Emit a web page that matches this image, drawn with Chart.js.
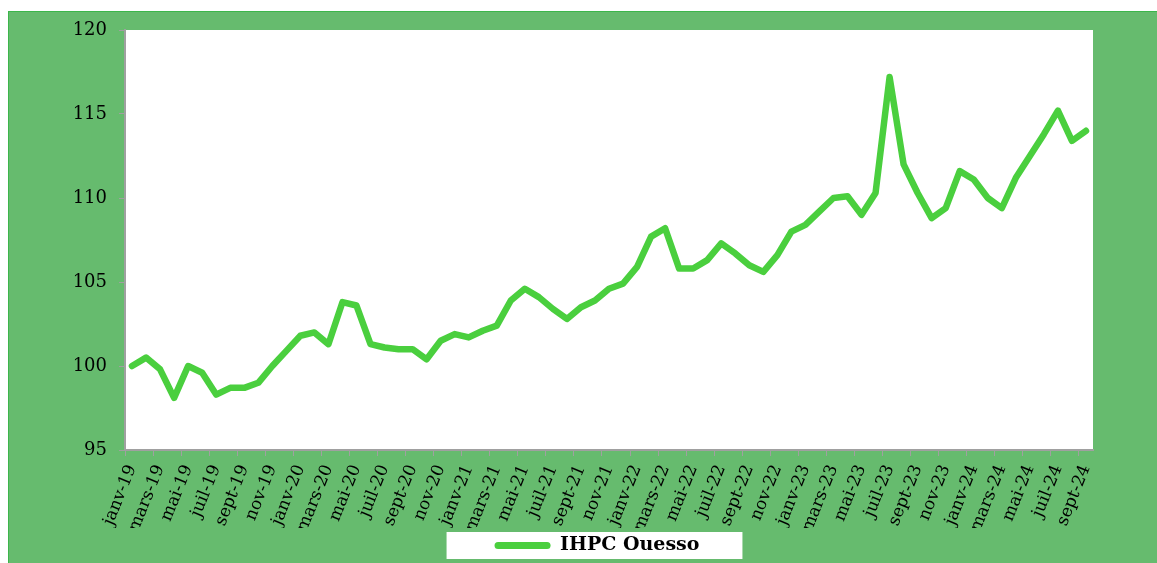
<!DOCTYPE html>
<html>
<head>
<meta charset="utf-8">
<script src="https://cdn.jsdelivr.net/npm/chart.js@4/dist/chart.umd.min.js"></script>
<style>
  html, body { margin: 0; padding: 0; background: #ffffff; overflow: hidden; }
  #cadre {
    position: absolute; left: 8px; top: 11px;
    width: 1148px; height: 551px;
    border: 1px solid #3cb64b;
    background: #66bb6e;
  }
  #ihpc { display: block; }
</style>
</head>
<body>
<div id="cadre"><canvas id="ihpc" width="1148" height="551"></canvas></div>
<script>
// mois (janv-19 a sept-24)
const mois = [
  'janv-19','févr-19','mars-19','avr-19','mai-19','juin-19','juil-19','août-19','sept-19','oct-19','nov-19','déc-19',
  'janv-20','févr-20','mars-20','avr-20','mai-20','juin-20','juil-20','août-20','sept-20','oct-20','nov-20','déc-20',
  'janv-21','févr-21','mars-21','avr-21','mai-21','juin-21','juil-21','août-21','sept-21','oct-21','nov-21','déc-21',
  'janv-22','févr-22','mars-22','avr-22','mai-22','juin-22','juil-22','août-22','sept-22','oct-22','nov-22','déc-22',
  'janv-23','févr-23','mars-23','avr-23','mai-23','juin-23','juil-23','août-23','sept-23','oct-23','nov-23','déc-23',
  'janv-24','févr-24','mars-24','avr-24','mai-24','juin-24','juil-24','août-24','sept-24'
];

// indice IHPC Ouesso
const ihpcOuesso = [
  100.0, 100.5, 99.8, 98.1, 100.0, 99.6, 98.3, 98.7, 98.7, 99.0, 100.0, 100.9,
  101.8, 102.0, 101.3, 103.8, 103.6, 101.3, 101.1, 101.0, 101.0, 100.4, 101.5, 101.9,
  101.7, 102.1, 102.4, 103.9, 104.6, 104.1, 103.4, 102.8, 103.5, 103.9, 104.6, 104.9,
  105.9, 107.7, 108.2, 105.8, 105.8, 106.3, 107.3, 106.7, 106.0, 105.6, 106.6, 108.0,
  108.4, 109.2, 110.0, 110.1, 109.0, 110.3, 117.2, 112.0, 110.3, 108.8, 109.4, 111.6,
  111.1, 110.0, 109.4, 111.2, 112.5, 113.8, 115.2, 113.4, 114.0
];

const yTicks = [95, 100, 105, 110, 115, 120];

const couleurLigne = 'rgba(74,207,62,1)';
const couleurAxe = 'rgba(160,160,160,1)';

// fond blanc de la zone de tracé + cadre blanc de la légende
const fondPlugin = {
  id: 'fond',
  afterLayout(chart) {
    // décale la légende vers la droite et un peu vers le bas, comme dans l'original
    chart.legend.left = 92;
    chart.legend.top += 2;
    chart.legend.bottom += 2;
  },
  beforeDraw(chart) {
    const ctx = chart.ctx;
    const a = chart.chartArea;
    ctx.save();
    ctx.fillStyle = '#ffffff';
    ctx.fillRect(a.left, a.top, a.right - a.left, a.bottom - a.top);
    const hb = chart.legend && chart.legend.legendHitBoxes[0];
    if (hb) {
      const cy = hb.top + hb.height / 2;
      ctx.fillRect(hb.left - 48, cy - 13.5, hb.width + 48 + 43, 27);
    }
    ctx.restore();
  }
};

new Chart(document.getElementById('ihpc').getContext('2d'), {
  type: 'line',
  data: {
    labels: mois,
    datasets: [
      {
        label: 'IHPC Ouesso',
        data: ihpcOuesso,
        borderColor: couleurLigne,
        backgroundColor: couleurLigne,
        borderWidth: 6.5,
        pointRadius: 0,
        tension: 0,
        borderJoinStyle: 'round',
        borderCapStyle: 'round'
      }
    ]
  },
  options: {
    responsive: false,
    animation: false,
    layout: {
      padding: { top: 18, left: 0, right: 64, bottom: 0 }
    },
    plugins: {
      legend: {
        display: true,
        position: 'bottom',
        labels: {
          color: '#000000',
          font: { family: 'DejaVu Serif', size: 19, weight: 'bold' },
          boxWidth: 56,
          boxHeight: 7,
          useBorderRadius: true,
          borderRadius: 3.5,
          padding: 6,
          generateLabels(chart) {
            return Chart.defaults.plugins.legend.labels.generateLabels(chart).map(it => {
              it.lineWidth = 0;
              it.fillStyle = couleurLigne;
              it.strokeStyle = 'transparent';
              return it;
            });
          }
        }
      },
      tooltip: { enabled: false },
      title: { display: false }
    },
    scales: {
      x: {
        offset: true,
        afterFit(scale) { scale.height = 78; },
        grid: {
          offset: true,
          drawOnChartArea: false,
          drawTicks: true,
          tickLength: 6,
          tickColor: c => (c.index % 2 === 0 ? couleurAxe : 'rgba(0,0,0,0)')
        },
        border: { display: true, color: couleurAxe, width: 2 },
        ticks: {
          autoSkip: false,
          minRotation: 68,
          maxRotation: 68,
          padding: 6,
          color: '#000000',
          font: { family: 'DejaVu Serif', size: 17 },
          callback: (v, i) => (i % 2 === 0 ? mois[i] : '')
        }
      },
      y: {
        min: 95,
        max: 120,
        afterFit(scale) {
          scale.width = 116;
          scale.paddingTop = 5;
          scale.paddingBottom = 5;
        },
        afterBuildTicks(scale) { scale.ticks = yTicks.map(v => ({ value: v })); },
        grid: {
          drawOnChartArea: false,
          drawTicks: true,
          tickLength: 6,
          color: couleurAxe
        },
        border: { display: true, color: couleurAxe, width: 2 },
        ticks: {
          padding: 12,
          color: '#000000',
          font: { family: 'DejaVu Serif', size: 18 }
        }
      }
    }
  },
  plugins: [fondPlugin]
});
</script>
</body>
</html>
